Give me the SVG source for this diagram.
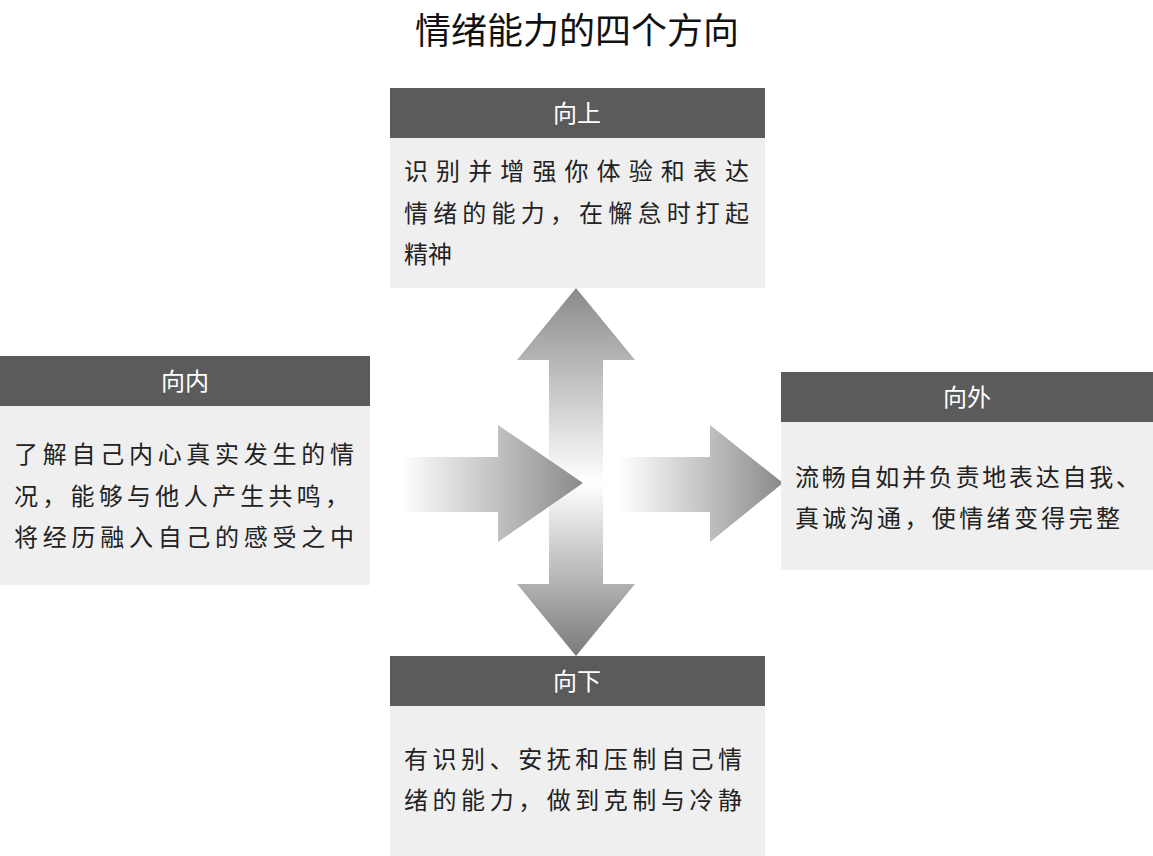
<svg xmlns="http://www.w3.org/2000/svg" width="1153" height="856" viewBox="0 0 1153 856">
<defs>
<style>
.hd{fill:#5b5b5b}.bd{fill:#efefef}
.ht{fill:#fff;font:24px "Noto Sans CJK SC",sans-serif;text-anchor:middle}
.t{fill:#222;font:24px "Noto Sans CJK SC",sans-serif}
</style>
<linearGradient id="gu" x1="0" y1="0" x2="0" y2="1"><stop offset="0" stop-color="#8a8a8a"/><stop offset="1" stop-color="#fff"/></linearGradient>
<linearGradient id="gd" x1="0" y1="1" x2="0" y2="0"><stop offset="0" stop-color="#7a7a7a"/><stop offset="1" stop-color="#fff"/></linearGradient>
<linearGradient id="gl" x1="0" y1="0" x2="1" y2="0"><stop offset="0" stop-color="#fff"/><stop offset="1" stop-color="#8a8a8a"/></linearGradient>
<linearGradient id="gr" x1="0" y1="0" x2="1" y2="0"><stop offset="0" stop-color="#fff"/><stop offset="1" stop-color="#8a8a8a"/></linearGradient>
</defs>
<rect width="1153" height="856" fill="#fff"/>
<text x="577" y="44" style="font:36px 'Noto Sans CJK SC',sans-serif;text-anchor:middle;fill:#111">情绪能力的四个方向</text>
<g id="connectors">
<polygon points="576,288 635,360 603,360 603,483 549,483 549,360 517,360" fill="url(#gu)"/>
<polygon points="576,656 635,584 603,584 603,483 549,483 549,584 517,584" fill="url(#gd)"/>
<polygon points="583,483 498,425 498,457 400,457 400,512 498,512 498,542" fill="url(#gl)"/>
<polygon points="783,483 710,425 710,457 620,457 620,512 710,512 710,542" fill="url(#gr)"/>
</g>
<g id="up"><rect class="bd" x="390" y="138" width="375" height="150"/><rect class="hd" x="390" y="88" width="375" height="50"/><text class="ht" x="577" y="122">向上</text>
<text class="t" x="404" y="180" textLength="345">识别并增强你体验和表达</text><text class="t" x="404" y="222" textLength="345">情绪的能力，在懈怠时打起</text><text class="t" x="404" y="263">精神</text></g>
<g id="in"><rect class="bd" x="0" y="406" width="370" height="179"/><rect class="hd" x="0" y="356" width="370" height="50"/><text class="ht" x="185" y="390">向内</text>
<text class="t" x="14" y="463" textLength="340">了解自己内心真实发生的情</text><text class="t" x="14" y="505" textLength="335">况，能够与他人产生共鸣，</text><text class="t" x="14" y="546" textLength="340">将经历融入自己的感受之中</text></g>
<g id="out"><rect class="bd" x="781" y="422" width="372" height="148"/><rect class="hd" x="781" y="372" width="372" height="50"/><text class="ht" x="967" y="406">向外</text>
<text class="t" x="795" y="486" textLength="345">流畅自如并负责地表达自我、</text><text class="t" x="795" y="527" textLength="325">真诚沟通，使情绪变得完整</text></g>
<g id="down"><rect class="bd" x="390" y="706" width="375" height="150"/><rect class="hd" x="390" y="656" width="375" height="50"/><text class="ht" x="577" y="690">向下</text>
<text class="t" x="404" y="768" textLength="338">有识别、安抚和压制自己情</text><text class="t" x="404" y="809" textLength="338">绪的能力，做到克制与冷静</text></g>
</svg>
